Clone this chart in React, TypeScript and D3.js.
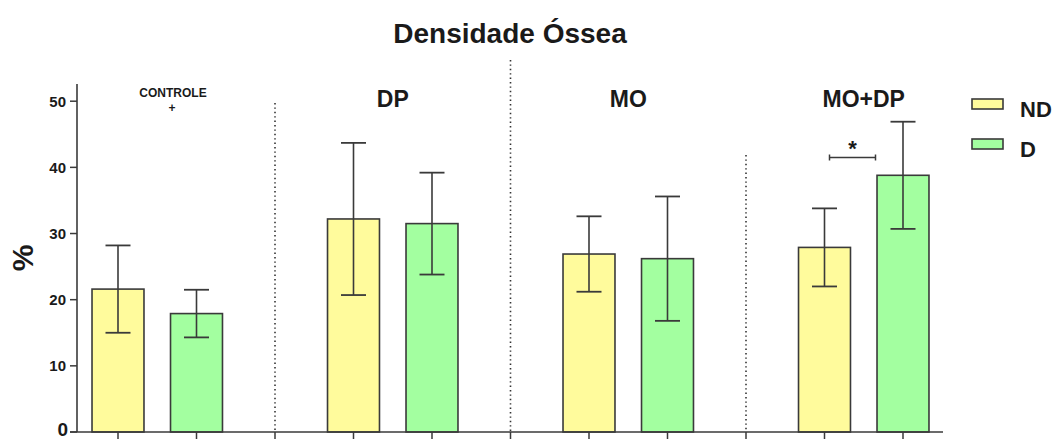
import * as d3 from "d3";

// groups and series values
const groups = ["CONTROLE", "DP", "MO", "MO+DP"];
const series = ["ND", "D"];
const ndMean = [21.6, 32.2, 26.9, 27.9];
const ndSd = [6.6, 11.5, 5.7, 5.9];
const dMean = [17.9, 31.5, 26.2, 38.8];
const dSd = [3.6, 7.7, 9.4, 8.1];
const yTicks = [0, 10, 20, 30, 40, 50];
const sepTops = [103, 60, 155];

const W = 1059;
const H = 439;
const FONT = "'Liberation Sans', Arial, Helvetica, sans-serif";
const COLORS: Record<string, string> = { ND: "#fffb9c", D: "#a3ffa0" };
const INK = "#1a1a1a";
const LINE = "#3a3a3a";

export default function App() {
  // 11 slots: ND, D, separator for each group (last group has no separator)
  const slots: string[] = [];
  groups.forEach((g, i) => {
    series.forEach((s) => slots.push(`${g}|${s}`));
    if (i < groups.length - 1) slots.push(`sep${i}`);
  });

  const xScale = d3
    .scaleBand()
    .domain(slots)
    .range([78.75, 942.25])
    .paddingInner(0.338)
    .paddingOuter(0.169);

  const yScale = d3.scaleLinear().domain([0, 52.6]).range([432, 84]);

  const bw = xScale.bandwidth();
  const cx = (k: string) => (xScale(k) as number) + bw / 2;
  const y0 = yScale(0);

  const bars = groups.flatMap((g, i) =>
    series.map((s) => {
      const mean = s === "ND" ? ndMean[i] : dMean[i];
      const sd = s === "ND" ? ndSd[i] : dSd[i];
      const key = `${g}|${s}`;
      const x = xScale(key) as number;
      const c = cx(key);
      return (
        <g key={key}>
          <rect
            x={x}
            y={yScale(mean)}
            width={bw}
            height={y0 - yScale(mean)}
            fill={COLORS[s]}
            stroke={LINE}
            strokeWidth={1.6}
          />
          <line x1={c} x2={c} y1={yScale(mean + sd)} y2={yScale(mean - sd)} stroke={LINE} strokeWidth={1.6} />
          <line x1={c - 12.5} x2={c + 12.5} y1={yScale(mean + sd)} y2={yScale(mean + sd)} stroke={LINE} strokeWidth={1.8} />
          <line x1={c - 12.5} x2={c + 12.5} y1={yScale(mean - sd)} y2={yScale(mean - sd)} stroke={LINE} strokeWidth={1.8} />
        </g>
      );
    })
  );

  const seps = [0, 1, 2].map((i) => (
    <line
      key={i}
      x1={cx(`sep${i}`)}
      x2={cx(`sep${i}`)}
      y1={sepTops[i]}
      y2={y0}
      stroke="#333"
      strokeWidth={1.6}
      strokeDasharray="1.4,3"
    />
  ));

  const xTicks = slots.map((k) => (
    <line key={k} x1={cx(k)} x2={cx(k)} y1={y0} y2={y0 + 8} stroke={LINE} strokeWidth={1.5} />
  ));

  const yAxis = yTicks.map((t) => (
    <g key={t}>
      <line x1={70} x2={77} y1={yScale(t)} y2={yScale(t)} stroke={LINE} strokeWidth={1.5} />
      {t === 0 ? (
        <text x={68} y={436} textAnchor="end" fontSize={19} fontWeight="bold" fill={INK}>
          0
        </text>
      ) : (
        <text x={66} y={yScale(t) + 5.5} textAnchor="end" fontSize={15} fontWeight="bold" fill={INK}>
          {t}
        </text>
      )}
    </g>
  ));

  const mid = (g: string) => (cx(`${g}|ND`) + cx(`${g}|D`)) / 2;
  const sigY = 157.5;
  const sx1 = cx("MO+DP|ND") + 5;
  const sx2 = cx("MO+DP|ND") + 51;

  return (
    <svg
      width={W}
      height={H}
      style={{ position: "absolute", left: 0, top: 0, background: "#fff" }}
      fontFamily={FONT}
    >
      <text x={510} y={43} textAnchor="middle" fontSize={28} fontWeight="bold" fill={INK}>
        Densidade Óssea
      </text>

      {seps}
      {bars}

      {/* axes */}
      <line x1={77} x2={77} y1={84} y2={y0} stroke={LINE} strokeWidth={1.6} />
      <line x1={70} x2={943} y1={y0} y2={y0} stroke={LINE} strokeWidth={1.6} />
      {xTicks}
      {yAxis}
      <text
        transform="translate(33,258) rotate(-90)"
        textAnchor="middle"
        fontSize={30}
        fontWeight="bold"
        fill={INK}
      >
        %
      </text>

      {/* group labels */}
      <text x={173} y={97} textAnchor="middle" fontSize={12} fontWeight="bold" fill={INK}>
        CONTROLE
      </text>
      <text x={172} y={112} textAnchor="middle" fontSize={12} fontWeight="bold" fill={INK}>
        +
      </text>
      {groups.slice(1).map((g) => (
        <text key={g} x={mid(g)} y={107} textAnchor="middle" fontSize={23} fontWeight="bold" fill={INK}>
          {g}
        </text>
      ))}

      {/* significance */}
      <line x1={sx1} x2={sx2} y1={sigY} y2={sigY} stroke={LINE} strokeWidth={1.5} />
      <line x1={sx1} x2={sx1} y1={sigY - 3} y2={sigY + 3} stroke={LINE} strokeWidth={1.5} />
      <line x1={sx2} x2={sx2} y1={sigY - 3} y2={sigY + 3} stroke={LINE} strokeWidth={1.5} />
      <text x={(sx1 + sx2) / 2} y={156} textAnchor="middle" fontSize={22} fontWeight="bold" fill={INK}>
        *
      </text>

      {/* legend */}
      {series.map((s, i) => (
        <g key={s} transform={`translate(972,${99 + i * 40})`}>
          <rect x={0} y={0} width={31} height={10} fill={COLORS[s]} stroke={LINE} strokeWidth={1.6} />
          <text x={48} y={18} fontSize={22} fontWeight="bold" fill={INK}>
            {s}
          </text>
        </g>
      ))}
    </svg>
  );
}
